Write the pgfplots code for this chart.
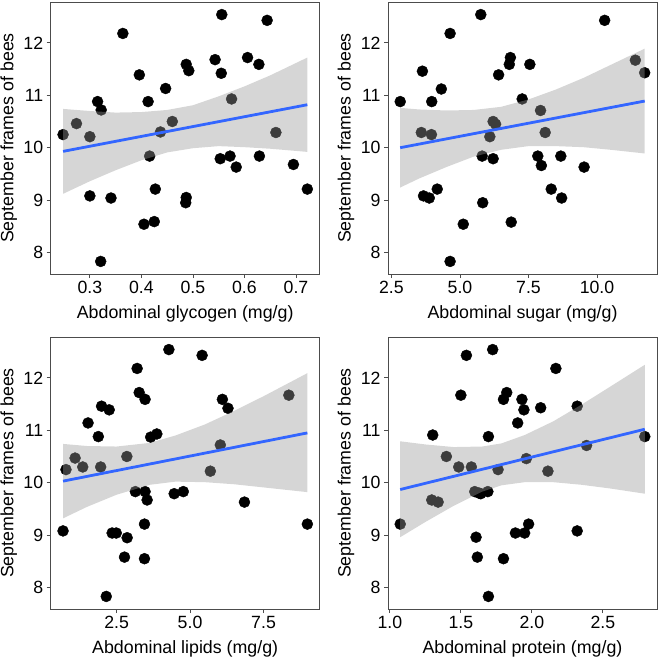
\documentclass[border=0pt]{standalone}
\usepackage{fontspec}
\setmainfont{Liberation Sans}
\usepackage{pgfplots}
\pgfplotsset{compat=1.18}
\definecolor{fitblue}{HTML}{3366FF}

\pgfplotsset{
  frame/.style={
    scale only axis, width=269pt, height=272pt, anchor=north west,
    ymin=7.59, ymax=12.78,
  },
  bee/.style={
    frame, ytick={8,9,10,11,12},
    axis line style={black!70, line width=0.8pt},
    tick align=outside, tick style={black!70, line width=0.8pt}, major tick length=4pt,
    xtick pos=left, ytick pos=left,
    ticklabel style={font=\fontsize{17.7}{17.7}\selectfont},
    /pgf/number format/assume math mode=true,
    ylabel={September frames of bees},
    every axis y label/.style={at={(axis description cs:-0.156,0.5)}, rotate=90, anchor=center, font=\fontsize{17.8}{17.8}\selectfont},
    every axis x label/.style={at={(axis description cs:0.5,-0.147)}, anchor=center, font=\fontsize{17.8}{17.8}\selectfont},
  },
  over/.style={frame, hide axis},
  dots/.style={only marks, mark=*, mark size=5.5pt, mark options={fill=black, draw=none}},
  band/.style={draw=none, fill=black!40, fill opacity=0.4},
  fit/.style={fitblue, line width=2.8pt, no marks},
}

\begin{document}
\begin{tikzpicture}
\path[use as bounding box] (0,0) rectangle (657pt,-657pt);

% glycogen
\begin{axis}[bee, at={(50.7pt,-2pt)},
  xmin=0.224, xmax=0.746, xtick={0.3,0.4,0.5,0.6,0.7},
  xticklabels={0.3,0.4,0.5,0.6,0.7}, xlabel={Abdominal glycogen (mg/g)}]
\addplot[dots] coordinates {
(0.248,10.25) (0.274,10.46) (0.300,10.21) (0.300,9.08) (0.315,10.88) (0.322,10.72)
(0.321,7.83) (0.341,9.04) (0.364,12.18) (0.396,11.39) (0.405,8.54) (0.413,10.88)
(0.416,9.84) (0.425,8.59) (0.427,9.21) (0.437,10.30) (0.447,11.13) (0.460,10.50)
(0.487,11.59) (0.487,9.05) (0.486,8.95) (0.492,11.47) (0.543,11.68) (0.553,9.79)
(0.555,11.42) (0.556,12.54) (0.572,9.84) (0.575,10.93) (0.584,9.63) (0.606,11.72)
(0.628,11.59) (0.629,9.84) (0.644,12.43) (0.661,10.29) (0.695,9.68) (0.722,9.21)};
\end{axis}
\begin{axis}[over, at={(50.7pt,-2pt)}, xmin=0.224, xmax=0.746]
\addplot[band] coordinates {
(0.248,10.74) (0.30,10.70) (0.35,10.67) (0.40,10.68) (0.45,10.72) (0.50,10.81)
(0.55,10.98) (0.60,11.17) (0.65,11.38) (0.722,11.72)
(0.722,9.92) (0.65,9.98) (0.60,10.01) (0.55,10.03) (0.50,9.99) (0.45,9.91)
(0.40,9.76) (0.35,9.57) (0.30,9.36) (0.248,9.12)} -- cycle;
\addplot[fit] coordinates {(0.248,9.93) (0.722,10.82)};
\end{axis}

% sugar
\begin{axis}[bee, at={(388pt,-2pt)},
  xmin=2.374, xmax=12.19, xtick={2.5,5,7.5,10},
  xticklabels={2.5,5.0,7.5,10.0}, xlabel={Abdominal sugar (mg/g)}]
\addplot[dots] coordinates {
(2.82,10.88) (3.59,10.29) (3.63,11.46) (3.67,9.08) (3.88,9.04) (3.96,10.25)
(3.97,10.88) (4.17,9.21) (4.32,11.12) (4.64,12.18) (4.64,7.83) (5.12,8.54)
(5.76,12.54) (5.81,9.84) (5.83,8.95) (6.09,10.21) (6.21,9.79) (6.21,10.50)
(6.30,10.45) (6.41,11.39) (6.80,11.59) (6.84,11.72) (6.87,8.58) (7.27,10.93)
(7.55,11.59) (7.84,9.84) (7.94,10.71) (7.97,9.66) (8.11,10.29) (8.33,9.21)
(8.68,9.84) (8.71,9.04) (9.53,9.63) (10.28,12.43) (11.40,11.67) (11.74,11.43)};
\end{axis}
\begin{axis}[over, at={(388pt,-2pt)}, xmin=2.374, xmax=12.19]
\addplot[band] coordinates {
(2.82,10.76) (3.5,10.73) (4.5,10.71) (5.5,10.72) (6.5,10.78) (7.5,10.92)
(8.5,11.11) (9.5,11.33) (10.5,11.58) (11.74,11.89)
(11.74,9.89) (10.5,9.96) (9.5,10.01) (8.5,10.03) (7.5,10.03) (6.5,9.96)
(5.5,9.83) (4.5,9.63) (3.5,9.41) (2.82,9.24)} -- cycle;
\addplot[fit] coordinates {(2.82,10.00) (11.74,10.89)};
\end{axis}

% lipids
\begin{axis}[bee, at={(50.7pt,-337pt)},
  xmin=0.26, xmax=9.41, xtick={2.5,5,7.5},
  xticklabels={2.5,5.0,7.5}, xlabel={Abdominal lipids (mg/g)}]
\addplot[dots] coordinates {
(0.68,9.08) (0.78,10.25) (1.09,10.47) (1.35,10.30) (1.53,11.14) (1.88,10.88)
(1.96,10.30) (1.99,11.46) (2.15,7.83) (2.25,11.39) (2.35,9.04) (2.49,9.04)
(2.77,8.58) (2.85,10.50) (2.86,8.95) (3.14,9.83) (3.20,12.18) (3.27,11.72)
(3.45,9.21) (3.45,8.55) (3.47,11.59) (3.47,9.83) (3.54,9.67) (3.66,10.87)
(3.87,10.93) (4.28,12.54) (4.46,9.79) (4.77,9.83) (5.41,12.43) (5.69,10.22)
(6.03,10.72) (6.10,11.59) (6.29,11.42) (6.85,9.63) (8.36,11.67) (8.99,9.21)};
\end{axis}
\begin{axis}[over, at={(50.7pt,-337pt)}, xmin=0.26, xmax=9.41]
\addplot[band] coordinates {
(0.68,10.74) (1.5,10.70) (2.5,10.69) (3.63,10.76) (4.5,10.90) (5.5,11.11)
(6.5,11.37) (7.5,11.65) (8.99,12.09)
(8.99,9.82) (7.5,9.91) (6.5,9.97) (5.5,10.01) (4.5,10.02) (3.63,9.96)
(2.5,9.77) (1.5,9.54) (0.68,9.32)} -- cycle;
\addplot[fit] coordinates {(0.68,10.03) (8.99,10.95)};
\end{axis}

% protein
\begin{axis}[bee, at={(388pt,-337pt)},
  xmin=0.987, xmax=2.881, xtick={1,1.5,2,2.5},
  xticklabels={1.0,1.5,2.0,2.5}, xlabel={Abdominal protein (mg/g)}]
\addplot[dots] coordinates {
(1.073,9.21) (1.302,10.91) (1.295,9.67) (1.340,9.63) (1.398,10.50) (1.485,10.30)
(1.500,11.67) (1.539,12.43) (1.574,10.30) (1.607,8.96) (1.598,9.83) (1.616,8.58)
(1.640,9.79) (1.630,9.80) (1.690,9.83) (1.694,10.88) (1.694,7.83) (1.724,12.54)
(1.762,10.25) (1.800,11.59) (1.800,8.55) (1.823,11.72) (1.884,9.04) (1.900,11.14)
(1.930,11.59) (1.944,11.39) (1.949,9.04) (1.961,10.46) (1.977,9.21) (2.062,11.43)
(2.113,10.22) (2.169,12.18) (2.319,11.46) (2.319,9.08) (2.385,10.71) (2.795,10.88)};
\end{axis}
\begin{axis}[over, at={(388pt,-337pt)}, xmin=0.987, xmax=2.881]
\addplot[band] coordinates {
(1.073,10.79) (1.25,10.73) (1.45,10.68) (1.65,10.69) (1.786,10.75) (1.95,10.91)
(2.15,11.17) (2.35,11.49) (2.55,11.83) (2.795,12.25)
(2.795,9.79) (2.55,9.89) (2.35,9.96) (2.15,10.01) (1.95,10.01) (1.786,9.95)
(1.65,9.83) (1.45,9.56) (1.25,9.25) (1.073,8.96)} -- cycle;
\addplot[fit] coordinates {(1.073,9.87) (2.795,11.02)};
\end{axis}
\end{tikzpicture}
\end{document}
